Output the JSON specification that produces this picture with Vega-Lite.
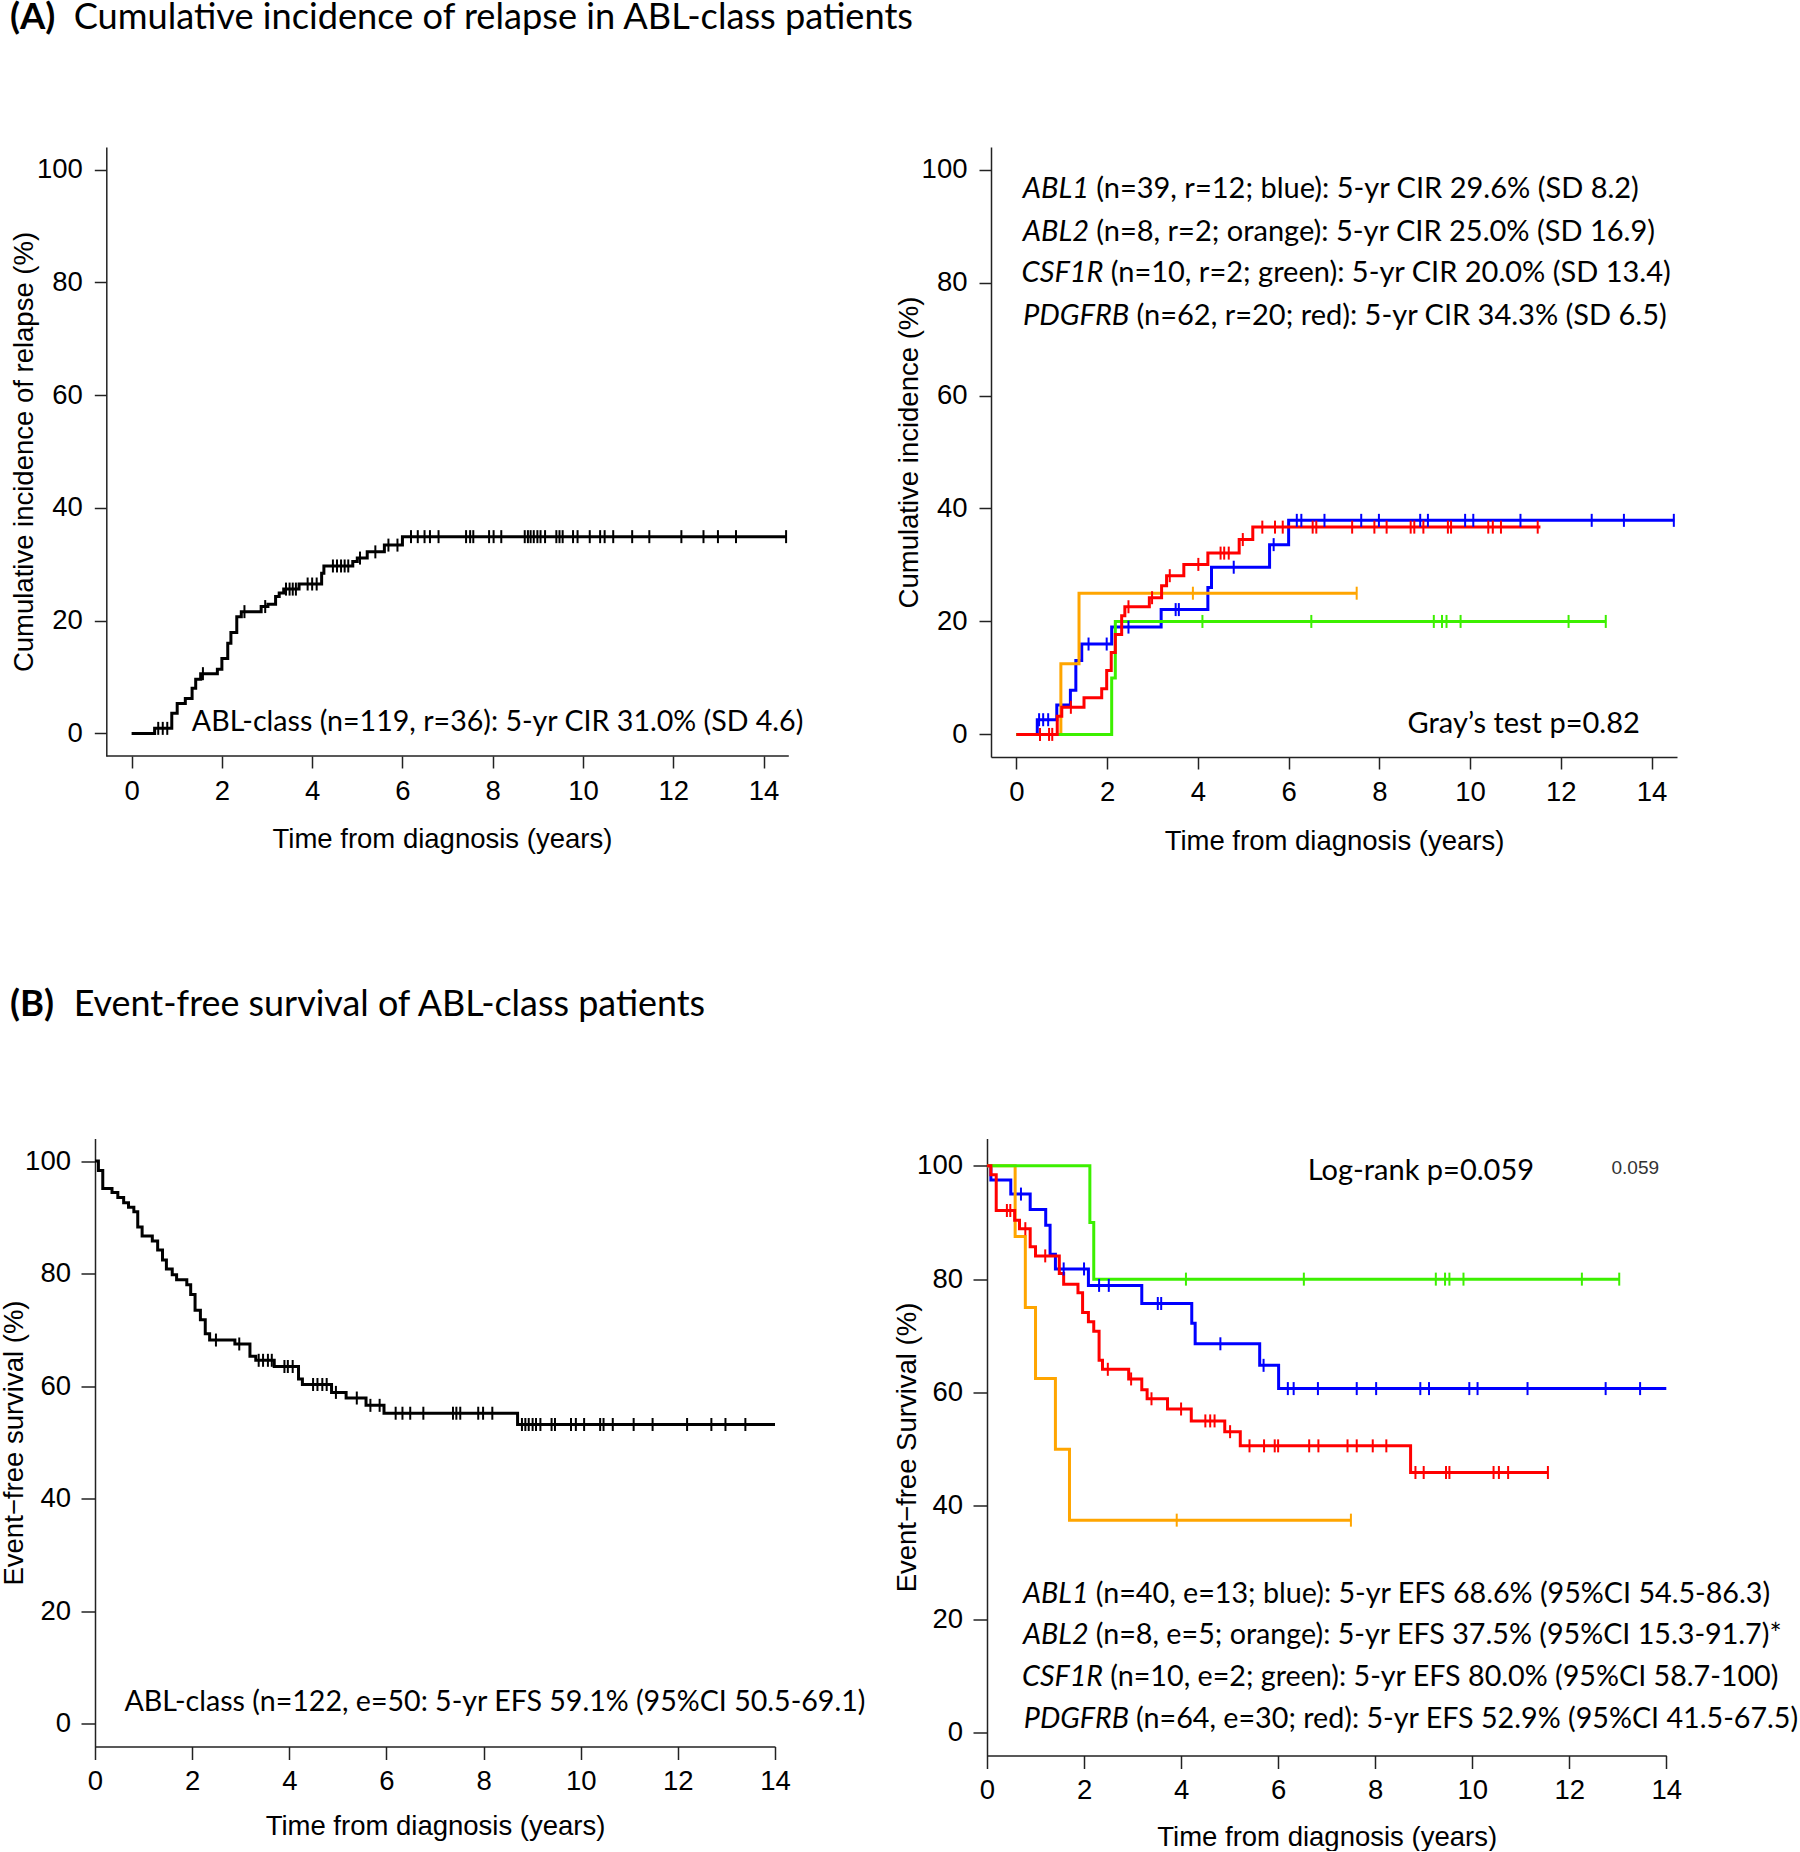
{
  "$schema": "https://vega.github.io/schema/vega-lite/v6.json",
  "padding": 0,
  "background": "white",
  "config": {
    "view": {"stroke": null},
    "axis": {
      "labelFont": "Liberation Sans", "titleFont": "Liberation Sans",
      "labelFontSize": 27.5, "titleFontSize": 27.5, "titleFontWeight": "normal",
      "labelColor": "#000", "titleColor": "#000",
      "domainColor": "#222", "tickColor": "#222", "domainWidth": 1.5, "tickWidth": 1.5,
      "grid": false, "labelFlush": false, "labelOverlap": false
    }
  },
  "datasets": {
    "al": [
      {"t":0,"v":0},{"t":0.51,"v":0.9},{"t":0.89,"v":3.6},{"t":1.01,"v":5.3},{"t":1.19,"v":6.2},{"t":1.34,"v":8.0},{"t":1.42,"v":9.6},{"t":1.53,"v":10.6},{"t":1.90,"v":11.4},{"t":2.00,"v":13.3},{"t":2.13,"v":16.0},{"t":2.20,"v":17.9},{"t":2.33,"v":20.7},{"t":2.43,"v":21.6},{"t":2.87,"v":22.5},{"t":3.02,"v":22.9},{"t":3.19,"v":24.3},{"t":3.27,"v":24.9},{"t":3.37,"v":25.6},{"t":3.71,"v":26.5},{"t":4.21,"v":28.4},{"t":4.26,"v":29.7},{"t":4.90,"v":30.5},{"t":5.00,"v":31.1},{"t":5.22,"v":32.2},{"t":5.60,"v":33.4},{"t":6.00,"v":34.9},{"t":14.5,"v":34.9}
    ],
    "alc": [
      {"t":0.59,"v":0.9},{"t":0.69,"v":0.9},{"t":0.79,"v":0.9},{"t":1.58,"v":10.6},{"t":2.50,"v":21.6},{"t":2.96,"v":22.5},{"t":3.42,"v":25.6},{"t":3.50,"v":25.6},{"t":3.57,"v":25.6},{"t":3.64,"v":25.6},{"t":3.90,"v":26.5},{"t":4.00,"v":26.5},{"t":4.10,"v":26.5},{"t":4.46,"v":29.7},{"t":4.55,"v":29.7},{"t":4.64,"v":29.7},{"t":4.72,"v":29.7},{"t":4.80,"v":29.7},{"t":5.06,"v":31.1},{"t":5.40,"v":32.2},{"t":5.69,"v":33.4},{"t":5.89,"v":33.4},
      {"t":6.19,"v":34.9},{"t":6.34,"v":34.9},{"t":6.49,"v":34.9},{"t":6.61,"v":34.9},{"t":6.80,"v":34.9},{"t":7.41,"v":34.9},{"t":7.50,"v":34.9},{"t":7.57,"v":34.9},{"t":7.92,"v":34.9},{"t":8.02,"v":34.9},{"t":8.19,"v":34.9},{"t":8.71,"v":34.9},{"t":8.78,"v":34.9},{"t":8.84,"v":34.9},{"t":8.91,"v":34.9},{"t":8.99,"v":34.9},{"t":9.06,"v":34.9},{"t":9.16,"v":34.9},{"t":9.41,"v":34.9},{"t":9.48,"v":34.9},{"t":9.55,"v":34.9},{"t":9.78,"v":34.9},{"t":9.88,"v":34.9},{"t":10.15,"v":34.9},{"t":10.38,"v":34.9},{"t":10.48,"v":34.9},{"t":10.67,"v":34.9},{"t":11.09,"v":34.9},{"t":11.47,"v":34.9},{"t":12.18,"v":34.9},{"t":12.67,"v":34.9},{"t":12.99,"v":34.9},{"t":13.39,"v":34.9},{"t":14.5,"v":34.9}
    ],
    "ar": [
      {"g":"ABL1","t":0,"v":0},{"g":"ABL1","t":0.46,"v":2.6},{"g":"ABL1","t":0.89,"v":5.2},{"g":"ABL1","t":1.19,"v":7.8},{"g":"ABL1","t":1.31,"v":13.1},{"g":"ABL1","t":1.44,"v":16.0},{"g":"ABL1","t":2.10,"v":19.0},{"g":"ABL1","t":3.19,"v":22.1},{"g":"ABL1","t":4.22,"v":26.0},{"g":"ABL1","t":4.30,"v":29.6},{"g":"ABL1","t":5.58,"v":33.6},{"g":"ABL1","t":6.00,"v":37.9},{"g":"ABL1","t":14.5,"v":37.9},
      {"g":"ABL2","t":0,"v":0},{"g":"ABL2","t":0.98,"v":12.5},{"g":"ABL2","t":1.38,"v":25},{"g":"ABL2","t":7.5,"v":25},
      {"g":"CSF1R","t":0,"v":0},{"g":"CSF1R","t":2.10,"v":10},{"g":"CSF1R","t":2.18,"v":20},{"g":"CSF1R","t":13.0,"v":20},
      {"g":"PDGFRB","t":0,"v":0},{"g":"PDGFRB","t":0.90,"v":3.2},{"g":"PDGFRB","t":1.00,"v":4.8},{"g":"PDGFRB","t":1.49,"v":6.5},{"g":"PDGFRB","t":1.88,"v":8.1},{"g":"PDGFRB","t":1.99,"v":11.3},{"g":"PDGFRB","t":2.09,"v":14.5},{"g":"PDGFRB","t":2.18,"v":17.7},{"g":"PDGFRB","t":2.32,"v":21.0},{"g":"PDGFRB","t":2.39,"v":22.6},{"g":"PDGFRB","t":2.93,"v":24.2},{"g":"PDGFRB","t":3.20,"v":26.3},{"g":"PDGFRB","t":3.31,"v":28.1},{"g":"PDGFRB","t":3.69,"v":30.1},{"g":"PDGFRB","t":4.22,"v":32.1},{"g":"PDGFRB","t":4.91,"v":34.5},{"g":"PDGFRB","t":5.21,"v":36.7},{"g":"PDGFRB","t":11.55,"v":36.7}
    ],
    "arc": [
      {"g":"ABL1","t":0.50,"v":2.6},{"g":"ABL1","t":0.59,"v":2.6},{"g":"ABL1","t":0.70,"v":2.6},{"g":"ABL1","t":1.59,"v":16.0},{"g":"ABL1","t":1.99,"v":16.0},{"g":"ABL1","t":2.47,"v":19.0},{"g":"ABL1","t":3.51,"v":22.1},{"g":"ABL1","t":3.58,"v":22.1},{"g":"ABL1","t":4.79,"v":29.6},{"g":"ABL1","t":5.67,"v":33.6},{"g":"ABL1","t":6.18,"v":37.9},{"g":"ABL1","t":6.28,"v":37.9},{"g":"ABL1","t":6.79,"v":37.9},{"g":"ABL1","t":7.6,"v":37.9},{"g":"ABL1","t":7.99,"v":37.9},{"g":"ABL1","t":8.9,"v":37.9},{"g":"ABL1","t":9.07,"v":37.9},{"g":"ABL1","t":9.89,"v":37.9},{"g":"ABL1","t":10.07,"v":37.9},{"g":"ABL1","t":11.11,"v":37.9},{"g":"ABL1","t":12.68,"v":37.9},{"g":"ABL1","t":13.39,"v":37.9},{"g":"ABL1","t":14.49,"v":37.9},
      {"g":"ABL2","t":3.89,"v":25},{"g":"ABL2","t":7.5,"v":25},
      {"g":"CSF1R","t":4.1,"v":20},{"g":"CSF1R","t":6.5,"v":20},{"g":"CSF1R","t":9.2,"v":20},{"g":"CSF1R","t":9.38,"v":20},{"g":"CSF1R","t":9.48,"v":20},{"g":"CSF1R","t":9.79,"v":20},{"g":"CSF1R","t":12.17,"v":20},{"g":"CSF1R","t":12.99,"v":20},
      {"g":"PDGFRB","t":0.52,"v":0},{"g":"PDGFRB","t":0.72,"v":0},{"g":"PDGFRB","t":0.79,"v":0},{"g":"PDGFRB","t":1.20,"v":4.8},{"g":"PDGFRB","t":2.47,"v":22.6},{"g":"PDGFRB","t":2.99,"v":24.2},{"g":"PDGFRB","t":3.38,"v":28.1},{"g":"PDGFRB","t":4.01,"v":30.1},{"g":"PDGFRB","t":4.50,"v":32.1},{"g":"PDGFRB","t":4.58,"v":32.1},{"g":"PDGFRB","t":4.68,"v":32.1},{"g":"PDGFRB","t":4.99,"v":34.5},{"g":"PDGFRB","t":5.42,"v":36.7},{"g":"PDGFRB","t":5.70,"v":36.7},{"g":"PDGFRB","t":5.87,"v":36.7},{"g":"PDGFRB","t":6.53,"v":36.7},{"g":"PDGFRB","t":6.61,"v":36.7},{"g":"PDGFRB","t":7.40,"v":36.7},{"g":"PDGFRB","t":7.89,"v":36.7},{"g":"PDGFRB","t":8.16,"v":36.7},{"g":"PDGFRB","t":8.69,"v":36.7},{"g":"PDGFRB","t":8.77,"v":36.7},{"g":"PDGFRB","t":8.97,"v":36.7},{"g":"PDGFRB","t":9.51,"v":36.7},{"g":"PDGFRB","t":9.58,"v":36.7},{"g":"PDGFRB","t":10.4,"v":36.7},{"g":"PDGFRB","t":10.5,"v":36.7},{"g":"PDGFRB","t":10.68,"v":36.7},{"g":"PDGFRB","t":11.49,"v":36.7}
    ],
    "bl": [
      {"t":0,"v":100},{"t":0.07,"v":98.3},{"t":0.16,"v":95.1},{"t":0.35,"v":94.4},{"t":0.47,"v":93.5},{"t":0.59,"v":92.6},{"t":0.69,"v":91.8},{"t":0.80,"v":91.0},{"t":0.88,"v":88.3},{"t":0.97,"v":86.7},{"t":1.18,"v":85.8},{"t":1.29,"v":84.2},{"t":1.39,"v":82.4},{"t":1.47,"v":80.8},{"t":1.59,"v":79.8},{"t":1.68,"v":78.9},{"t":1.89,"v":78.0},{"t":1.97,"v":76.3},{"t":2.06,"v":73.5},{"t":2.17,"v":71.8},{"t":2.27,"v":69.3},{"t":2.36,"v":68.2},{"t":2.88,"v":67.5},{"t":3.19,"v":65.3},{"t":3.31,"v":64.6},{"t":3.69,"v":63.5},{"t":4.19,"v":61.3},{"t":4.27,"v":60.3},{"t":4.87,"v":58.9},{"t":5.17,"v":57.9},{"t":5.58,"v":56.6},{"t":5.95,"v":55.2},{"t":8.70,"v":53.2},{"t":14.0,"v":53.2}
    ],
    "blc": [
      {"t":2.49,"v":68.2},{"t":2.97,"v":67.5},{"t":3.37,"v":64.6},{"t":3.46,"v":64.6},{"t":3.56,"v":64.6},{"t":3.64,"v":64.6},{"t":3.90,"v":63.5},{"t":3.97,"v":63.5},{"t":4.07,"v":63.5},{"t":4.49,"v":60.3},{"t":4.58,"v":60.3},{"t":4.68,"v":60.3},{"t":4.77,"v":60.3},{"t":4.96,"v":58.9},{"t":5.39,"v":57.9},{"t":5.67,"v":56.6},{"t":5.86,"v":56.6},
      {"t":6.19,"v":55.2},{"t":6.33,"v":55.2},{"t":6.49,"v":55.2},{"t":6.76,"v":55.2},{"t":7.37,"v":55.2},{"t":7.44,"v":55.2},{"t":7.52,"v":55.2},{"t":7.89,"v":55.2},{"t":7.99,"v":55.2},{"t":8.18,"v":55.2},
      {"t":8.79,"v":53.2},{"t":8.86,"v":53.2},{"t":8.93,"v":53.2},{"t":9.01,"v":53.2},{"t":9.08,"v":53.2},{"t":9.17,"v":53.2},{"t":9.40,"v":53.2},{"t":9.47,"v":53.2},{"t":9.80,"v":53.2},{"t":9.90,"v":53.2},{"t":10.07,"v":53.2},{"t":10.40,"v":53.2},{"t":10.47,"v":53.2},{"t":10.66,"v":53.2},{"t":11.09,"v":53.2},{"t":11.48,"v":53.2},{"t":12.19,"v":53.2},{"t":12.69,"v":53.2},{"t":12.98,"v":53.2},{"t":13.39,"v":53.2}
    ],
    "br": [
      {"g":"ABL1","t":0,"v":100},{"g":"ABL1","t":0.08,"v":97.5},{"g":"ABL1","t":0.49,"v":95.0},{"g":"ABL1","t":0.89,"v":92.3},{"g":"ABL1","t":1.21,"v":89.5},{"g":"ABL1","t":1.30,"v":84.4},{"g":"ABL1","t":1.41,"v":81.8},{"g":"ABL1","t":2.09,"v":78.9},{"g":"ABL1","t":3.19,"v":75.7},{"g":"ABL1","t":4.22,"v":72.2},{"g":"ABL1","t":4.29,"v":68.6},{"g":"ABL1","t":5.62,"v":64.8},{"g":"ABL1","t":6.01,"v":60.7},{"g":"ABL1","t":14.0,"v":60.7},
      {"g":"ABL2","t":0,"v":100},{"g":"ABL2","t":0.58,"v":87.5},{"g":"ABL2","t":0.79,"v":75},{"g":"ABL2","t":1.0,"v":62.5},{"g":"ABL2","t":1.41,"v":50},{"g":"ABL2","t":1.70,"v":37.5},{"g":"ABL2","t":7.5,"v":37.5},
      {"g":"CSF1R","t":0,"v":100},{"g":"CSF1R","t":2.12,"v":90},{"g":"CSF1R","t":2.2,"v":80},{"g":"CSF1R","t":13.03,"v":80},
      {"g":"PDGFRB","t":0,"v":100},{"g":"PDGFRB","t":0.08,"v":98.4},{"g":"PDGFRB","t":0.19,"v":92.1},{"g":"PDGFRB","t":0.57,"v":90.4},{"g":"PDGFRB","t":0.67,"v":88.9},{"g":"PDGFRB","t":0.89,"v":85.7},{"g":"PDGFRB","t":1.0,"v":84.1},{"g":"PDGFRB","t":1.49,"v":81.0},{"g":"PDGFRB","t":1.58,"v":79.1},{"g":"PDGFRB","t":1.875,"v":77.6},{"g":"PDGFRB","t":1.97,"v":74.1},{"g":"PDGFRB","t":2.09,"v":72.5},{"g":"PDGFRB","t":2.2,"v":70.8},{"g":"PDGFRB","t":2.31,"v":65.7},{"g":"PDGFRB","t":2.38,"v":64.1},{"g":"PDGFRB","t":2.92,"v":62.4},{"g":"PDGFRB","t":3.19,"v":60.5},{"g":"PDGFRB","t":3.30,"v":58.9},{"g":"PDGFRB","t":3.72,"v":57.1},{"g":"PDGFRB","t":4.21,"v":55.0},{"g":"PDGFRB","t":4.90,"v":53.1},{"g":"PDGFRB","t":5.22,"v":50.6},{"g":"PDGFRB","t":8.73,"v":45.9},{"g":"PDGFRB","t":11.56,"v":45.9}
    ],
    "brc": [
      {"g":"ABL1","t":0.70,"v":95.0},{"g":"ABL1","t":1.58,"v":81.8},{"g":"ABL1","t":2.00,"v":81.8},{"g":"ABL1","t":2.31,"v":78.9},{"g":"ABL1","t":2.51,"v":78.9},{"g":"ABL1","t":3.52,"v":75.7},{"g":"ABL1","t":3.59,"v":75.7},{"g":"ABL1","t":4.81,"v":68.6},{"g":"ABL1","t":5.70,"v":64.8},{"g":"ABL1","t":6.2,"v":60.7},{"g":"ABL1","t":6.32,"v":60.7},{"g":"ABL1","t":6.82,"v":60.7},{"g":"ABL1","t":7.62,"v":60.7},{"g":"ABL1","t":8.02,"v":60.7},{"g":"ABL1","t":8.93,"v":60.7},{"g":"ABL1","t":9.11,"v":60.7},{"g":"ABL1","t":9.94,"v":60.7},{"g":"ABL1","t":10.11,"v":60.7},{"g":"ABL1","t":11.14,"v":60.7},{"g":"ABL1","t":12.75,"v":60.7},{"g":"ABL1","t":13.46,"v":60.7},
      {"g":"ABL2","t":3.91,"v":37.5},{"g":"ABL2","t":7.5,"v":37.5},
      {"g":"CSF1R","t":4.1,"v":80},{"g":"CSF1R","t":6.53,"v":80},{"g":"CSF1R","t":9.25,"v":80},{"g":"CSF1R","t":9.44,"v":80},{"g":"CSF1R","t":9.53,"v":80},{"g":"CSF1R","t":9.82,"v":80},{"g":"CSF1R","t":12.26,"v":80},{"g":"CSF1R","t":13.03,"v":80},
      {"g":"PDGFRB","t":0.41,"v":92.1},{"g":"PDGFRB","t":0.48,"v":92.1},{"g":"PDGFRB","t":0.79,"v":88.9},{"g":"PDGFRB","t":1.2,"v":84.1},{"g":"PDGFRB","t":2.49,"v":64.1},{"g":"PDGFRB","t":2.97,"v":62.4},{"g":"PDGFRB","t":3.39,"v":58.9},{"g":"PDGFRB","t":4.0,"v":57.1},{"g":"PDGFRB","t":4.5,"v":55.0},{"g":"PDGFRB","t":4.6,"v":55.0},{"g":"PDGFRB","t":4.69,"v":55.0},{"g":"PDGFRB","t":5.01,"v":53.1},{"g":"PDGFRB","t":5.41,"v":50.6},{"g":"PDGFRB","t":5.71,"v":50.6},{"g":"PDGFRB","t":5.93,"v":50.6},{"g":"PDGFRB","t":6.0,"v":50.6},{"g":"PDGFRB","t":6.64,"v":50.6},{"g":"PDGFRB","t":6.83,"v":50.6},{"g":"PDGFRB","t":7.43,"v":50.6},{"g":"PDGFRB","t":7.62,"v":50.6},{"g":"PDGFRB","t":7.95,"v":50.6},{"g":"PDGFRB","t":8.23,"v":50.6},{"g":"PDGFRB","t":8.83,"v":45.9},{"g":"PDGFRB","t":9.0,"v":45.9},{"g":"PDGFRB","t":9.46,"v":45.9},{"g":"PDGFRB","t":9.53,"v":45.9},{"g":"PDGFRB","t":10.44,"v":45.9},{"g":"PDGFRB","t":10.55,"v":45.9},{"g":"PDGFRB","t":10.74,"v":45.9},{"g":"PDGFRB","t":11.56,"v":45.9}
    ]
  },
  "resolve": {"scale": {"x": "independent", "y": "independent"}},
  "spacing": 991.5,
  "bounds": "flush",
  "vconcat": [
    {
      "spacing": 202,
      "bounds": "flush",
      "resolve": {"scale": {"x": "independent", "y": "independent"}},
      "hconcat": [
        {
          "width": 693.8, "height": 609,
          "layer": [
            {
              "data": {"name": "al"},
              "mark": {"type": "line", "interpolate": "step-after", "color": "#000", "strokeWidth": 3},
              "encoding": {
                "x": {"field": "t", "type": "quantitative", "scale": {"domain": [-0.811, 14.56], "nice": false, "zero": false},
                      "axis": {"title": "Time from diagnosis (years)", "values": [0,2,4,6,8,10,12,14], "domain": false, "tickSize": 12, "labelPadding": 9, "titleY": 91, "titleBaseline": "alphabetic"}},
                "y": {"field": "v", "type": "quantitative", "scale": {"domain": [-4, 104], "nice": false, "zero": false},
                      "axis": {"title": "Cumulative incidence of relapse (%)", "values": [0,20,40,60,80,100], "offset": -11.3, "tickSize": 12, "labelPadding": 12, "titleX": -74, "titleBaseline": "alphabetic"}}
              }
            },
            {
              "data": {"name": "alc"},
              "mark": {"type": "point", "shape": "M0,-1L0,1", "size": 169, "filled": false, "color": "#000", "strokeWidth": 2, "opacity": 1},
              "encoding": {"x": {"field": "t", "type": "quantitative"}, "y": {"field": "v", "type": "quantitative"}}
            },
            {
              "data": {"values": [{}]},
              "mark": {"type": "rule", "color": "#222", "strokeWidth": 1.5},
              "encoding": {"x": {"datum": -0.56}, "x2": {"datum": 14.56}, "y": {"datum": -4}}
            },
            {
              "data": {"values": [{}]},
              "mark": {"type": "text", "text": "(A)", "font": "Lato", "fontSize": 36.5, "fontWeight": "bold", "align": "left", "baseline": "alphabetic", "color": "#000"},
              "encoding": {"x": {"datum": -2.696}, "y": {"datum": 124.88}}
            },
            {
              "data": {"values": [{}]},
              "mark": {"type": "text", "text": "Cumulative incidence of relapse in ABL-class patients", "font": "Lato", "fontSize": 36.2, "align": "left", "baseline": "alphabetic", "color": "#000"},
              "encoding": {"x": {"datum": -1.283}, "y": {"datum": 124.88}}
            },
            {
              "data": {"values": [{}]},
              "mark": {"type": "text", "text": "ABL-class (n=119, r=36): 5-yr CIR 31.0% (SD 4.6)", "font": "Lato", "fontSize": 28.6, "align": "left", "baseline": "alphabetic", "color": "#000"},
              "encoding": {"x": {"datum": 1.334}, "y": {"datum": 0.35}}
            }
          ]
        },
        {
          "width": 686, "height": 610,
          "layer": [
            {
              "data": {"name": "ar"},
              "mark": {"type": "line", "interpolate": "step-after", "strokeWidth": 3},
              "encoding": {
                "x": {"field": "t", "type": "quantitative", "scale": {"domain": [-0.56, 14.56], "nice": false, "zero": false},
                      "axis": {"title": "Time from diagnosis (years)", "values": [0,2,4,6,8,10,12,14], "tickSize": 12, "labelPadding": 9, "titleY": 92, "titleBaseline": "alphabetic"}},
                "y": {"field": "v", "type": "quantitative", "scale": {"domain": [-4, 104], "nice": false, "zero": false},
                      "axis": {"title": "Cumulative incidence (%)", "values": [0,20,40,60,80,100], "tickSize": 12, "labelPadding": 12, "titleX": -73.5, "titleBaseline": "alphabetic"}},
                "color": {"field": "g", "type": "nominal", "scale": {"domain": ["ABL1","ABL2","CSF1R","PDGFRB"], "range": ["#0000FF","#FFA500","#3CF000","#FF0000"]}, "legend": null}
              }
            },
            {
              "data": {"name": "arc"},
              "mark": {"type": "point", "shape": "M0,-1L0,1", "size": 169, "filled": false, "strokeWidth": 2, "opacity": 1},
              "encoding": {"x": {"field": "t", "type": "quantitative"}, "y": {"field": "v", "type": "quantitative"},
                           "color": {"field": "g", "type": "nominal", "scale": {"domain": ["ABL1","ABL2","CSF1R","PDGFRB"], "range": ["#0000FF","#FFA500","#3CF000","#FF0000"]}, "legend": null}}
            },
            {"data": {"values": [{}]}, "mark": {"type": "text", "text": "ABL1", "font": "Lato", "fontSize": 29, "fontStyle": "italic", "align": "right", "baseline": "alphabetic", "color": "#000"}, "encoding": {"x": {"datum": 1.600}, "y": {"datum": 94.9}}},
            {"data": {"values": [{}]}, "mark": {"type": "text", "text": "(n=39, r=12; blue): 5-yr CIR 29.6% (SD 8.2)", "font": "Lato", "fontSize": 29, "align": "left", "baseline": "alphabetic", "color": "#000"}, "encoding": {"x": {"datum": 1.759}, "y": {"datum": 94.9}}},
            {"data": {"values": [{}]}, "mark": {"type": "text", "text": "ABL2", "font": "Lato", "fontSize": 29, "fontStyle": "italic", "align": "right", "baseline": "alphabetic", "color": "#000"}, "encoding": {"x": {"datum": 1.600}, "y": {"datum": 87.4}}},
            {"data": {"values": [{}]}, "mark": {"type": "text", "text": "(n=8, r=2; orange): 5-yr CIR 25.0% (SD 16.9)", "font": "Lato", "fontSize": 29, "align": "left", "baseline": "alphabetic", "color": "#000"}, "encoding": {"x": {"datum": 1.759}, "y": {"datum": 87.4}}},
            {"data": {"values": [{}]}, "mark": {"type": "text", "text": "CSF1R", "font": "Lato", "fontSize": 29, "fontStyle": "italic", "align": "right", "baseline": "alphabetic", "color": "#000"}, "encoding": {"x": {"datum": 1.920}, "y": {"datum": 80.1}}},
            {"data": {"values": [{}]}, "mark": {"type": "text", "text": "(n=10, r=2; green): 5-yr CIR 20.0% (SD 13.4)", "font": "Lato", "fontSize": 29, "align": "left", "baseline": "alphabetic", "color": "#000"}, "encoding": {"x": {"datum": 2.078}, "y": {"datum": 80.1}}},
            {"data": {"values": [{}]}, "mark": {"type": "text", "text": "PDGFRB", "font": "Lato", "fontSize": 29, "fontStyle": "italic", "align": "right", "baseline": "alphabetic", "color": "#000"}, "encoding": {"x": {"datum": 2.488}, "y": {"datum": 72.5}}},
            {"data": {"values": [{}]}, "mark": {"type": "text", "text": "(n=62, r=20; red): 5-yr CIR 34.3% (SD 6.5)", "font": "Lato", "fontSize": 29, "align": "left", "baseline": "alphabetic", "color": "#000"}, "encoding": {"x": {"datum": 2.647}, "y": {"datum": 72.5}}},
            {"data": {"values": [{}]}, "mark": {"type": "text", "text": "Gray’s test p=0.82", "font": "Lato", "fontSize": 29, "align": "right", "baseline": "alphabetic", "color": "#000"}, "encoding": {"x": {"datum": 13.74}, "y": {"datum": 0.2}}}
          ]
        }
      ]
    },
    {
      "spacing": 212,
      "bounds": "flush",
      "resolve": {"scale": {"x": "independent", "y": "independent"}},
      "hconcat": [
        {
          "width": 680, "height": 608,
          "layer": [
            {
              "data": {"name": "bl"},
              "mark": {"type": "line", "interpolate": "step-after", "color": "#000", "strokeWidth": 3},
              "encoding": {
                "x": {"field": "t", "type": "quantitative", "scale": {"domain": [0, 14], "nice": false, "zero": false},
                      "axis": {"title": "Time from diagnosis (years)", "values": [0,2,4,6,8,10,12,14], "tickSize": 13, "labelPadding": 8, "titleY": 88, "titleBaseline": "alphabetic"}},
                "y": {"field": "v", "type": "quantitative", "scale": {"domain": [-4, 104], "nice": false, "zero": false},
                      "axis": {"title": "Event−free survival (%)", "values": [0,20,40,60,80,100], "tickSize": 14, "labelPadding": 10.5, "titleX": -73, "titleBaseline": "alphabetic"}}
              }
            },
            {
              "data": {"name": "blc"},
              "mark": {"type": "point", "shape": "M0,-1L0,1", "size": 169, "filled": false, "color": "#000", "strokeWidth": 2, "opacity": 1},
              "encoding": {"x": {"field": "t", "type": "quantitative"}, "y": {"field": "v", "type": "quantitative"}}
            },
            {
              "data": {"values": [{}]},
              "mark": {"type": "text", "text": "(B)", "font": "Lato", "fontSize": 36.5, "fontWeight": "bold", "align": "left", "baseline": "alphabetic", "color": "#000"},
              "encoding": {"x": {"datum": -1.752}, "y": {"datum": 125.8}}
            },
            {
              "data": {"values": [{}]},
              "mark": {"type": "text", "text": "Event-free survival of ABL-class patients", "font": "Lato", "fontSize": 35.9, "align": "left", "baseline": "alphabetic", "color": "#000"},
              "encoding": {"x": {"datum": -0.4385}, "y": {"datum": 125.8}}
            },
            {
              "data": {"values": [{}]},
              "mark": {"type": "text", "text": "ABL-class (n=122, e=50: 5-yr EFS 59.1% (95%CI 50.5-69.1)", "font": "Lato", "fontSize": 28.6, "align": "left", "baseline": "alphabetic", "color": "#000"},
              "encoding": {"x": {"datum": 0.607}, "y": {"datum": 2.25}}
            }
          ]
        },
        {
          "width": 679.3, "height": 617,
          "layer": [
            {
              "data": {"name": "br"},
              "mark": {"type": "line", "interpolate": "step-after", "strokeWidth": 3},
              "encoding": {
                "x": {"field": "t", "type": "quantitative", "scale": {"domain": [0, 14], "nice": false, "zero": false},
                      "axis": {"title": "Time from diagnosis (years)", "values": [0,2,4,6,8,10,12,14], "tickSize": 13, "labelPadding": 8, "titleY": 90, "titleBaseline": "alphabetic"}},
                "y": {"field": "v", "type": "quantitative", "scale": {"domain": [-4, 104.8], "nice": false, "zero": false},
                      "axis": {"title": "Event−free Survival (%)", "values": [0,20,40,60,80,100], "tickSize": 14, "labelPadding": 10.5, "titleX": -72, "titleBaseline": "alphabetic"}},
                "color": {"field": "g", "type": "nominal", "scale": {"domain": ["ABL1","ABL2","CSF1R","PDGFRB"], "range": ["#0000FF","#FFA500","#3CF000","#FF0000"]}, "legend": null}
              }
            },
            {
              "data": {"name": "brc"},
              "mark": {"type": "point", "shape": "M0,-1L0,1", "size": 169, "filled": false, "strokeWidth": 2, "opacity": 1},
              "encoding": {"x": {"field": "t", "type": "quantitative"}, "y": {"field": "v", "type": "quantitative"},
                           "color": {"field": "g", "type": "nominal", "scale": {"domain": ["ABL1","ABL2","CSF1R","PDGFRB"], "range": ["#0000FF","#FFA500","#3CF000","#FF0000"]}, "legend": null}}
            },
            {"data": {"values": [{}]}, "mark": {"type": "text", "text": "Log-rank p=0.059", "font": "Lato", "fontSize": 29, "align": "left", "baseline": "alphabetic", "color": "#000"}, "encoding": {"x": {"datum": 6.61}, "y": {"datum": 97.5}}},
            {"data": {"values": [{}]}, "mark": {"type": "text", "text": "0.059", "font": "Liberation Sans", "fontSize": 19, "align": "left", "baseline": "alphabetic", "color": "#333"}, "encoding": {"x": {"datum": 12.87}, "y": {"datum": 98.5}}},
            {"data": {"values": [{}]}, "mark": {"type": "text", "text": "ABL1", "font": "Lato", "fontSize": 28.7, "fontStyle": "italic", "align": "right", "baseline": "alphabetic", "color": "#000"}, "encoding": {"x": {"datum": 2.094}, "y": {"datum": 22.9}}},
            {"data": {"values": [{}]}, "mark": {"type": "text", "text": "(n=40, e=13; blue): 5-yr EFS 68.6% (95%CI 54.5-86.3)", "font": "Lato", "fontSize": 28.7, "align": "left", "baseline": "alphabetic", "color": "#000"}, "encoding": {"x": {"datum": 2.242}, "y": {"datum": 22.9}}},
            {"data": {"values": [{}]}, "mark": {"type": "text", "text": "ABL2", "font": "Lato", "fontSize": 28.7, "fontStyle": "italic", "align": "right", "baseline": "alphabetic", "color": "#000"}, "encoding": {"x": {"datum": 2.094}, "y": {"datum": 15.6}}},
            {"data": {"values": [{}]}, "mark": {"type": "text", "text": "(n=8, e=5; orange): 5-yr EFS 37.5% (95%CI 15.3-91.7)*", "font": "Lato", "fontSize": 28.7, "align": "left", "baseline": "alphabetic", "color": "#000"}, "encoding": {"x": {"datum": 2.242}, "y": {"datum": 15.6}}},
            {"data": {"values": [{}]}, "mark": {"type": "text", "text": "CSF1R", "font": "Lato", "fontSize": 28.7, "fontStyle": "italic", "align": "right", "baseline": "alphabetic", "color": "#000"}, "encoding": {"x": {"datum": 2.393}, "y": {"datum": 8.3}}},
            {"data": {"values": [{}]}, "mark": {"type": "text", "text": "(n=10, e=2; green): 5-yr EFS 80.0% (95%CI 58.7-100)", "font": "Lato", "fontSize": 28.7, "align": "left", "baseline": "alphabetic", "color": "#000"}, "encoding": {"x": {"datum": 2.541}, "y": {"datum": 8.3}}},
            {"data": {"values": [{}]}, "mark": {"type": "text", "text": "PDGFRB", "font": "Lato", "fontSize": 28.7, "fontStyle": "italic", "align": "right", "baseline": "alphabetic", "color": "#000"}, "encoding": {"x": {"datum": 2.925}, "y": {"datum": 0.83}}},
            {"data": {"values": [{}]}, "mark": {"type": "text", "text": "(n=64, e=30; red): 5-yr EFS 52.9% (95%CI 41.5-67.5)", "font": "Lato", "fontSize": 28.7, "align": "left", "baseline": "alphabetic", "color": "#000"}, "encoding": {"x": {"datum": 3.073}, "y": {"datum": 0.83}}}
          ]
        }
      ]
    }
  ]
}
